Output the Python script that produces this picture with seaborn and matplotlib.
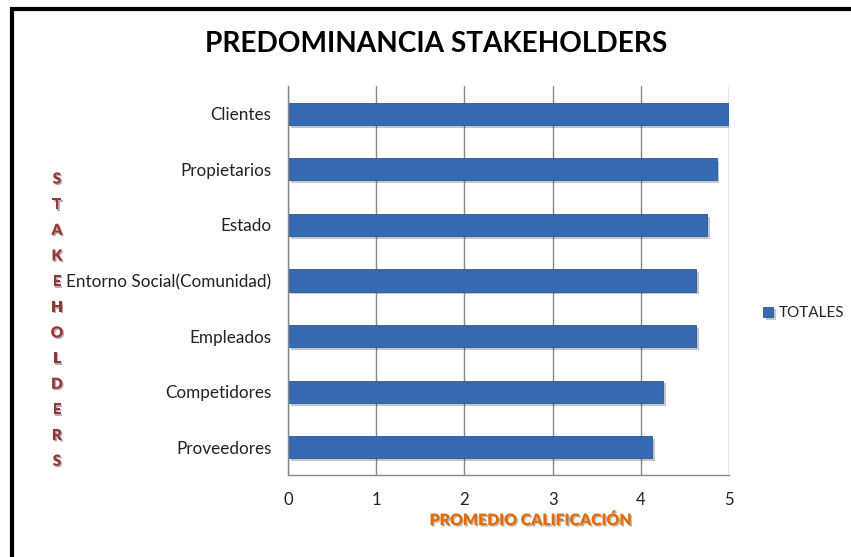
import matplotlib
matplotlib.use("Agg")
import matplotlib.pyplot as plt
import matplotlib.patheffects as pe
from matplotlib.lines import Line2D
import pandas as pd
import seaborn as sns

# values
stakeholders = ["Clientes", "Propietarios", "Estado", "Entorno Social(Comunidad)",
                "Empleados", "Competidores", "Proveedores"]
totales = [5.0, 4.86, 4.75, 4.63, 4.63, 4.25, 4.13]
x_ticks = [0, 1, 2, 3, 4, 5]

df = pd.DataFrame({"stakeholder": stakeholders, "TOTALES": totales})

sns.set_style("white")
plt.rcParams["font.family"] = ["Lato", "DejaVu Sans"]

fig = plt.figure(figsize=(8.51, 5.57), dpi=100)
ax = fig.add_axes([288 / 851, 1 - 475 / 557, 441 / 851, 389 / 557])

grid_col = "#878787"
bar_col = "#3569B2"

g = sns.barplot(data=df, x="TOTALES", y="stakeholder", color=bar_col, width=0.4,
                orient="h", ax=ax, label="TOTALES", saturation=1)
for p in ax.patches:
    p.set_edgecolor("#2B5797")
    p.set_linewidth(0.6)
    p.set_path_effects([pe.SimplePatchShadow(offset=(2, -2), alpha=0.25), pe.Normal()])

ax.set_xlim(0, 5)
ax.set_ylim(6.5, -0.5)
ax.set_xticks(x_ticks)
ax.set_xticklabels([str(t) for t in x_ticks], fontsize=12, color="#222222")
ax.tick_params(axis="y", which="major", length=0, labelsize=12.3, labelcolor="#222222", pad=12)
ax.set_yticks([i - 0.5 for i in range(len(stakeholders) + 1)], minor=True)
ax.tick_params(axis="y", which="minor", length=5, color=grid_col, direction="out", width=1)
ax.tick_params(axis="x", which="major", length=5, color=grid_col, direction="out", width=1, pad=7)

ax.xaxis.grid(True, color=grid_col, linewidth=1)
ax.yaxis.grid(False)
ax.set_axisbelow(True)
for side in ["top", "right"]:
    ax.spines[side].set_visible(False)
for side in ["left", "bottom"]:
    ax.spines[side].set_color(grid_col)
    ax.spines[side].set_linewidth(1)

shadow = [pe.withSimplePatchShadow(offset=(1, -1), alpha=0.35)]
ax.set_xlabel("PROMEDIO CALIFICACIÓN", fontsize=11.4, fontweight="heavy", color="#E36C09",
              path_effects=shadow, va="center")
ax.xaxis.set_label_coords(0.551, -0.116)
ax.set_ylabel("\n".join("STAKEHOLDERS"), fontsize=11, fontweight="heavy", color="#953735",
              rotation=0, linespacing=2.15, va="center", ha="center", path_effects=shadow)
ax.yaxis.set_label_coords(-0.524, 0.398)

ax.set_title("PREDOMINANCIA STAKEHOLDERS", fontsize=20.2, fontweight="bold", color="black",
             x=0.337, y=1.108, va="center", pad=0)

h, l = ax.get_legend_handles_labels()
ax.legend(h[:1], ["TOTALES"], loc="center left", bbox_to_anchor=(1.077, 0.416),
          frameon=False, fontsize=11, handlelength=0.65, handleheight=0.65,
          handletextpad=0.4, borderpad=0, borderaxespad=0)

# black frame of the chart area (top and left edges visible)
fig.add_artist(Line2D([11.5 / 851, 11.5 / 851], [0, 1 - 8 / 557], transform=fig.transFigure,
                      color="black", linewidth=3, solid_capstyle="butt"))
fig.add_artist(Line2D([10 / 851, 1], [1 - 8.5 / 557, 1 - 8.5 / 557], transform=fig.transFigure,
                      color="black", linewidth=3, solid_capstyle="butt"))

fig.savefig("out.png", dpi=100)
